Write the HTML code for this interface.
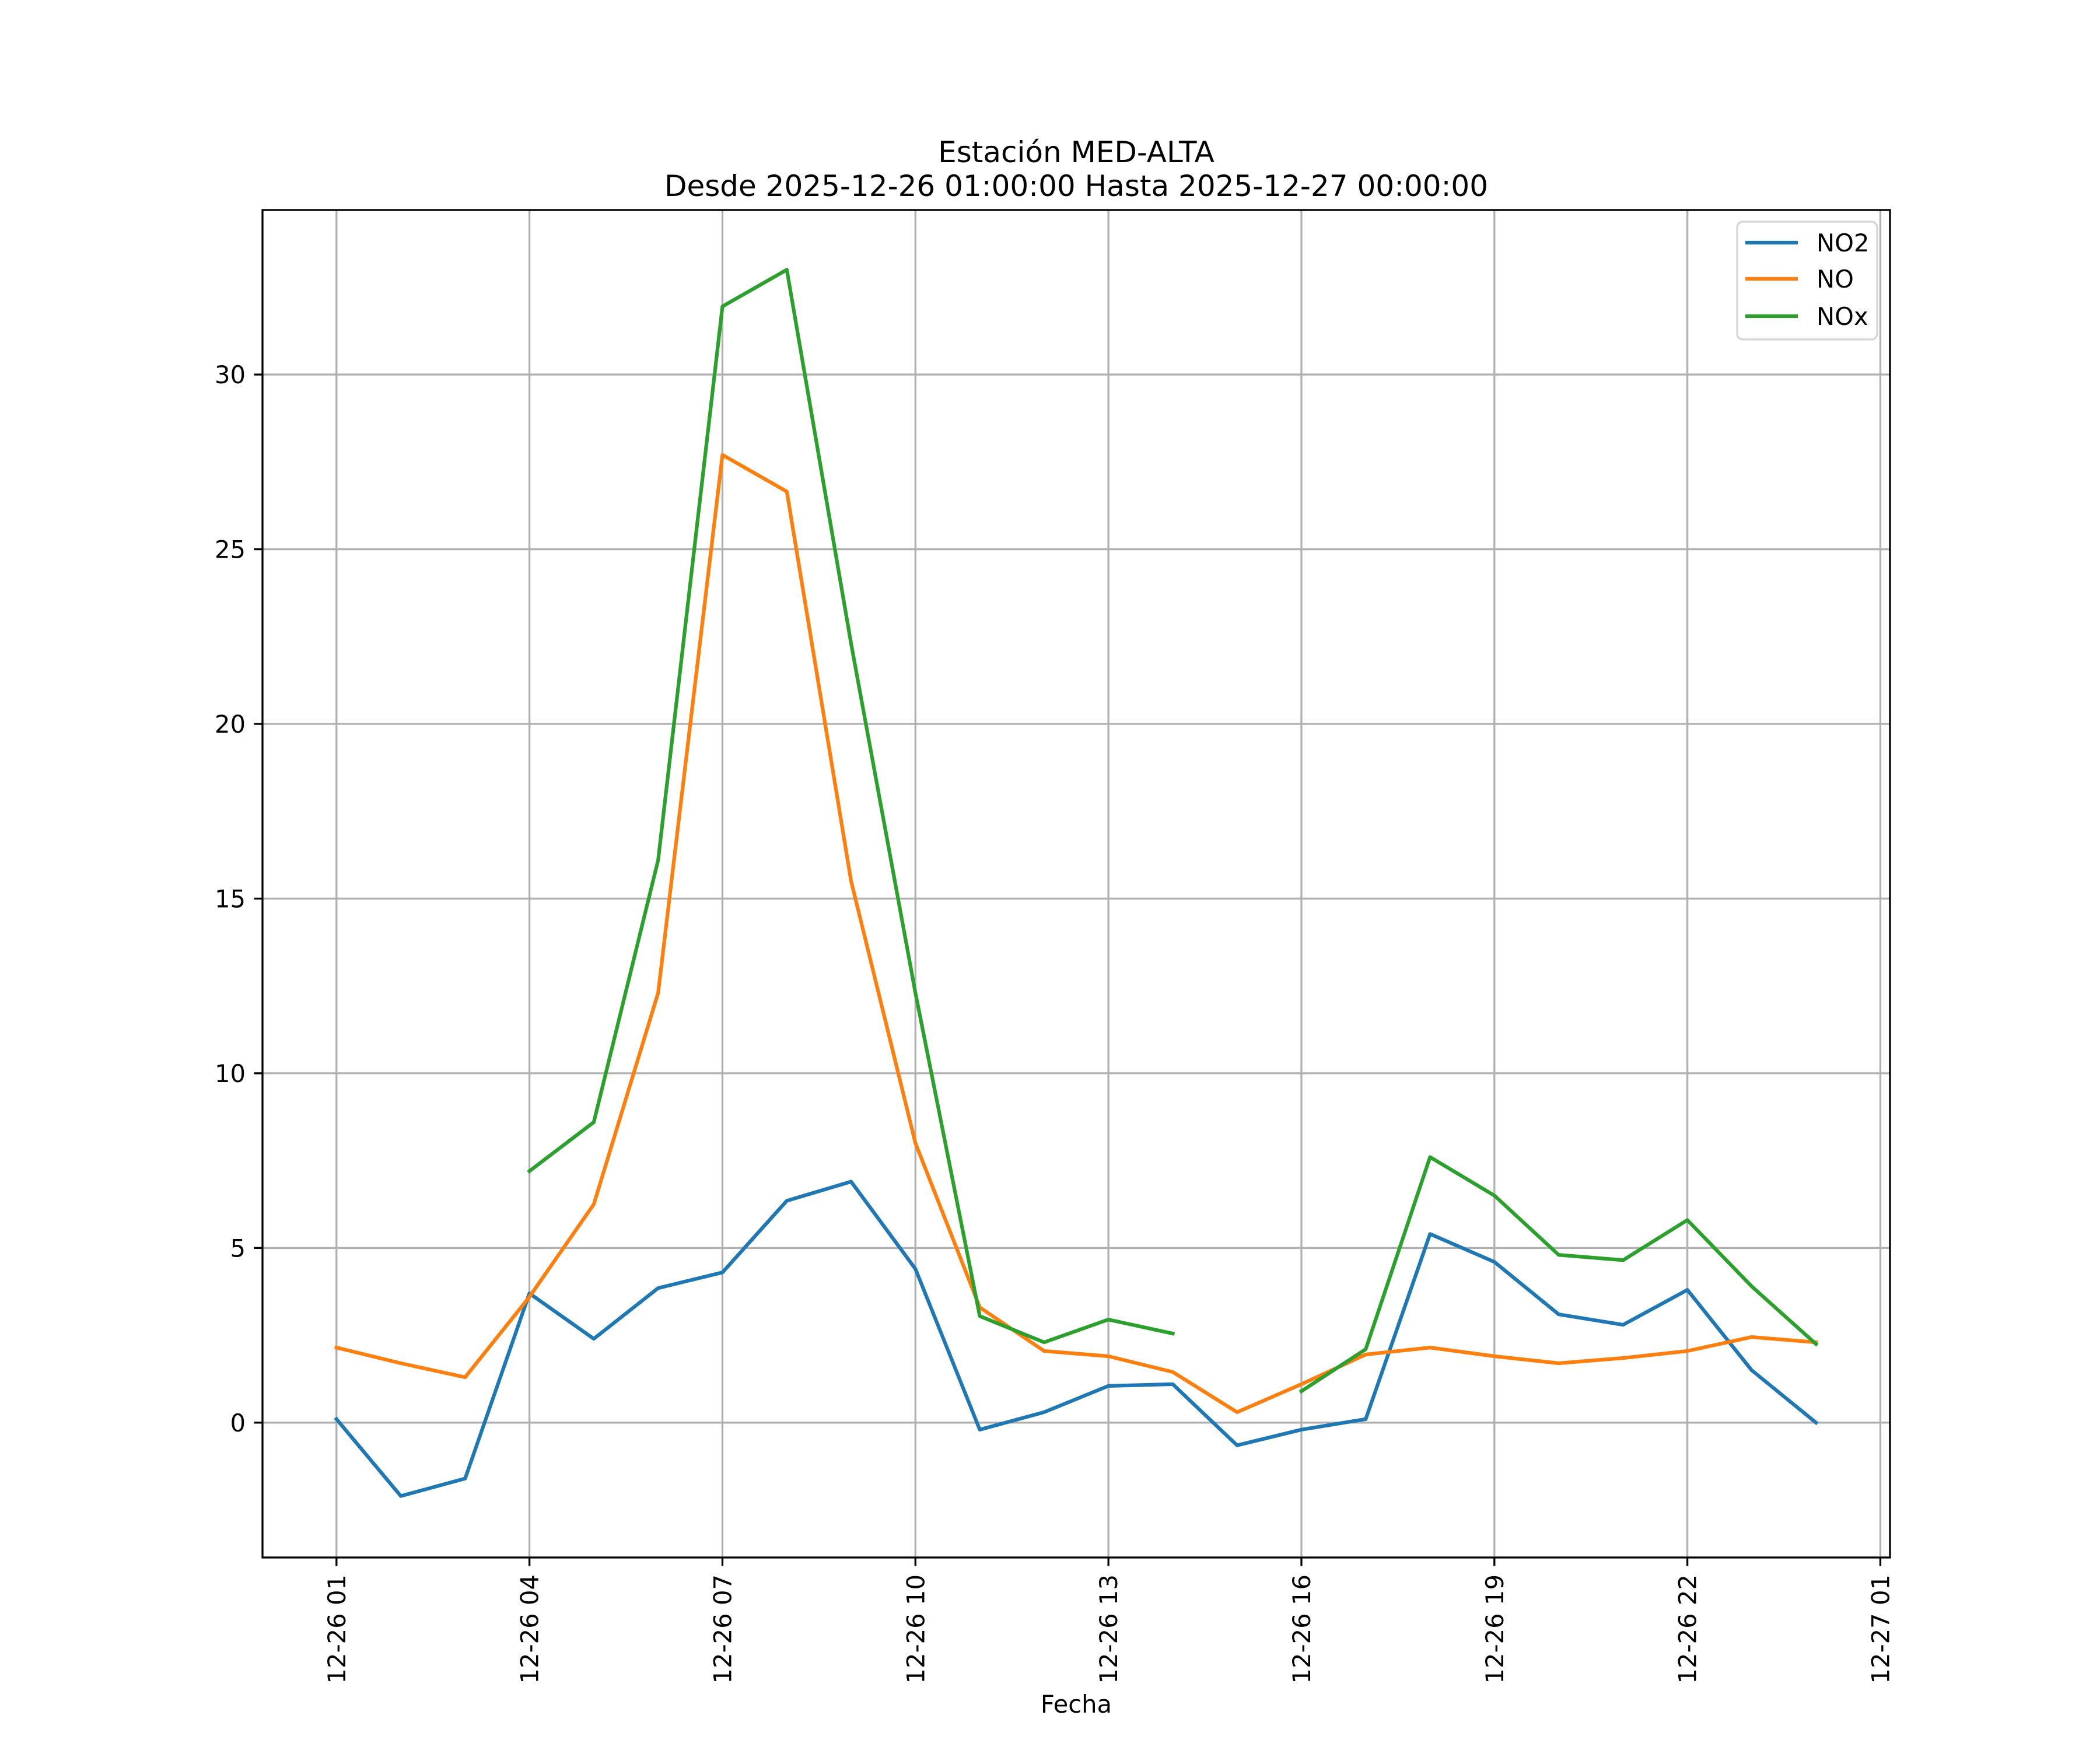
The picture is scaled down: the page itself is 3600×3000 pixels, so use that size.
<!DOCTYPE html>
<html><head><meta charset="utf-8"><style>
body{margin:0;background:#fff}
svg{display:block;font-family:"DejaVu Sans","Liberation Sans",sans-serif}
</style></head><body>
<svg id="chart" width="3600" height="3000" viewBox="0 0 3600 3000" xmlns="http://www.w3.org/2000/svg">
<rect width="3600" height="3000" fill="#fff"/>
<g id="grid"></g>
<g id="series"></g>
<g id="axes"></g>
<text x="1845" y="278" font-size="50" text-anchor="middle">Estación MED-ALTA</text>
<text x="1845" y="336" font-size="50" text-anchor="middle">Desde 2025-12-26 01:00:00 Hasta 2025-12-27 00:00:00</text>
<text x="1845" y="2936" font-size="41.7" text-anchor="middle">Fecha</text>
<g>
<rect x="2978" y="380" width="240" height="202" rx="10" fill="#fff" fill-opacity="0.8" stroke="#d5d5d5" stroke-width="3.3"/>
<g><line x1="2992" x2="3082" y1="416" y2="416" stroke="#1f77b4" stroke-width="6.25"/><text x="3114" y="431" font-size="41.7">NO2</text></g>
<g><line x1="2992" x2="3082" y1="478" y2="478" stroke="#ff7f0e" stroke-width="6.25"/><text x="3114" y="493" font-size="41.7">NO</text></g>
<g><line x1="2992" x2="3082" y1="542" y2="542" stroke="#2ca02c" stroke-width="6.25"/><text x="3114" y="557" font-size="41.7">NOx</text></g>
</g>
</svg>
<script>
const hours = [1,2,3,4,5,6,7,8,9,10,11,12,13,14,15,16,17,18,19,20,21,22,23,24];
const no2 = [0.1,-2.1,-1.6,3.7,2.4,3.85,4.3,6.35,6.9,4.4,-0.2,0.3,1.05,1.1,-0.65,-0.2,0.1,5.4,4.6,3.1,2.8,3.8,1.5,0];
const no = [2.15,1.7,1.3,3.6,6.25,12.3,27.7,26.65,15.5,8.0,3.3,2.05,1.9,1.45,0.3,1.1,1.95,2.15,1.9,1.7,1.85,2.05,2.45,2.3];
const nox = [null,null,null,7.2,8.6,16.1,31.95,33,22.3,12.3,3.05,2.3,2.95,2.55,null,0.9,2.1,7.6,6.5,4.8,4.65,5.8,3.9,2.25];
const xTickHours = [1,4,7,10,13,16,19,22,25];
const xTickLabels = ["12-26 01","12-26 04","12-26 07","12-26 10","12-26 13","12-26 16","12-26 19","12-26 22","12-27 01"];
const yTicks = [0,5,10,15,20,25,30];

const L=450,R=3240,T=360,B=2670;
const xmin=-0.15,xmax=25.15,ymin=-3.86,ymax=34.71;
const sx=v=>L+(v-xmin)/(xmax-xmin)*(R-L);
const sy=v=>B-(v-ymin)/(ymax-ymin)*(B-T);
const NS="http://www.w3.org/2000/svg";
function mk(tag,attrs,parent){const e=document.createElementNS(NS,tag);for(const k in attrs)e.setAttribute(k,attrs[k]);parent.appendChild(e);return e;}
const grid=document.getElementById('grid'),axes=document.getElementById('axes'),ser=document.getElementById('series');
xTickHours.forEach((h,i)=>{
  const x=sx(h);
  const g=mk('line',{x1:x,x2:x,y1:T,y2:B,stroke:'#b0b0b0','stroke-width':3.3},grid);
  
  
  const t=mk('line',{x1:x,x2:x,y1:B,y2:B+14.6,stroke:'#000','stroke-width':3.3},axes);
  
  
  const lb=mk('text',{x:0,y:0,'font-size':41.7,'text-anchor':'end',transform:`translate(${x+15},${B+29}) rotate(-90)`},axes);
  lb.textContent=xTickLabels[i];
  
  
});
yTicks.forEach(v=>{
  const y=sy(v);
  const g=mk('line',{x1:L,x2:R,y1:y,y2:y,stroke:'#b0b0b0','stroke-width':3.3},grid);
  
  
  const t=mk('line',{x1:L-14.6,x2:L,y1:y,y2:y,stroke:'#000','stroke-width':3.3},axes);
  
  
  const lb=mk('text',{x:L-29,y:y+15,'font-size':41.7,'text-anchor':'end'},axes);
  lb.textContent=v;
  
  
});
const fr=mk('rect',{x:L,y:T,width:R-L,height:B-T,fill:'none',stroke:'#000','stroke-width':3.3},axes);


function drawSeries(vals,color,name){
  let d='',pen=false;
  vals.forEach((v,i)=>{
    if(v===null){pen=false;return;}
    d+=(pen?'L':'M')+sx(hours[i]).toFixed(1)+' '+sy(v).toFixed(1)+' ';pen=true;
  });
  const p=mk('path',{d:d,fill:'none',stroke:color,'stroke-width':6.25,'stroke-linejoin':'round','stroke-linecap':'square'},ser);
  
  
}
drawSeries(no2,'#1f77b4','no2-line');
drawSeries(no,'#ff7f0e','no-line');
drawSeries(nox,'#2ca02c','nox-line');
</script>
</body></html>
